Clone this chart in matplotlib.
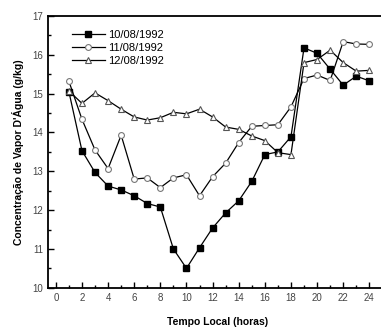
import matplotlib
matplotlib.use('Agg')
import matplotlib.pyplot as plt
from matplotlib.ticker import MultipleLocator

plt.rcParams['font.family'] = ['Liberation Sans', 'DejaVu Sans']

horas = list(range(1, 25))
dia10 = [15.05, 13.53, 12.97, 12.62, 12.52, 12.37, 12.17, 12.08, 11.0, 10.5, 11.03, 11.54,
         11.93, 12.24, 12.74, 13.43, 13.5, 13.89, 16.18, 16.04, 15.63, 15.22, 15.45, 15.33]
dia11 = [15.32, 14.34, 13.55, 13.07, 13.93, 12.8, 12.83, 12.58, 12.83, 12.91, 12.37, 12.86,
         13.21, 13.74, 14.16, 14.18, 14.2, 14.66, 15.39, 15.48, 15.34, 16.34, 16.28, 16.27]
dia12 = [15.07, 14.75, 15.02, 14.82, 14.6, 14.4, 14.32, 14.38, 14.52, 14.48, 14.6, 14.4,
         14.14, 14.08, 13.91, 13.79, 13.48, 13.43, 15.8, 15.88, 16.12, 15.8, 15.58, 15.6]

fig = plt.figure(figsize=(3.81, 3.27), dpi=100)
# axes run a little past the right edge, the right frame is cut off in the original
ax = fig.add_axes([0.126, 0.12, 0.89, 0.831])

ax.plot(horas, dia10, '-s', color='black', lw=0.9, ms=3.8, mfc='black', label='10/08/1992')
ax.plot(horas, dia11, '-o', color='black', lw=0.9, ms=4.2, mfc='white', mec='#777777', mew=0.8, label='11/08/1992')
ax.plot(horas, dia12, '-^', color='black', lw=0.9, ms=4.6, mfc='white', mec='#555555', mew=0.8, label='12/08/1992')

ax.set_xlim(-0.6, 25.36)
ax.set_ylim(10, 17)
ax.xaxis.set_major_locator(MultipleLocator(2))
ax.xaxis.set_minor_locator(MultipleLocator(1))
ax.yaxis.set_major_locator(MultipleLocator(1))
ax.yaxis.set_minor_locator(MultipleLocator(0.5))
ax.tick_params(which='both', direction='in', labelsize=7, labelcolor='#444444', width=1)
ax.tick_params(which='major', length=4)
ax.tick_params(which='minor', length=2.5)
for s in ax.spines.values():
    s.set_linewidth(1.3)

ax.set_xlabel('Tempo Local (horas)', fontsize=7.5, fontweight='bold', labelpad=10)
ax.set_ylabel("Concentração de Vapor D'Água (g/kg)", fontsize=7.5, fontweight='bold', labelpad=6)

ax.legend(loc='upper left', bbox_to_anchor=(0.04, 0.985), frameon=False, fontsize=8,
          handlelength=3, handletextpad=0.3, labelspacing=0.25)

plt.savefig('out.png', dpi=100)
